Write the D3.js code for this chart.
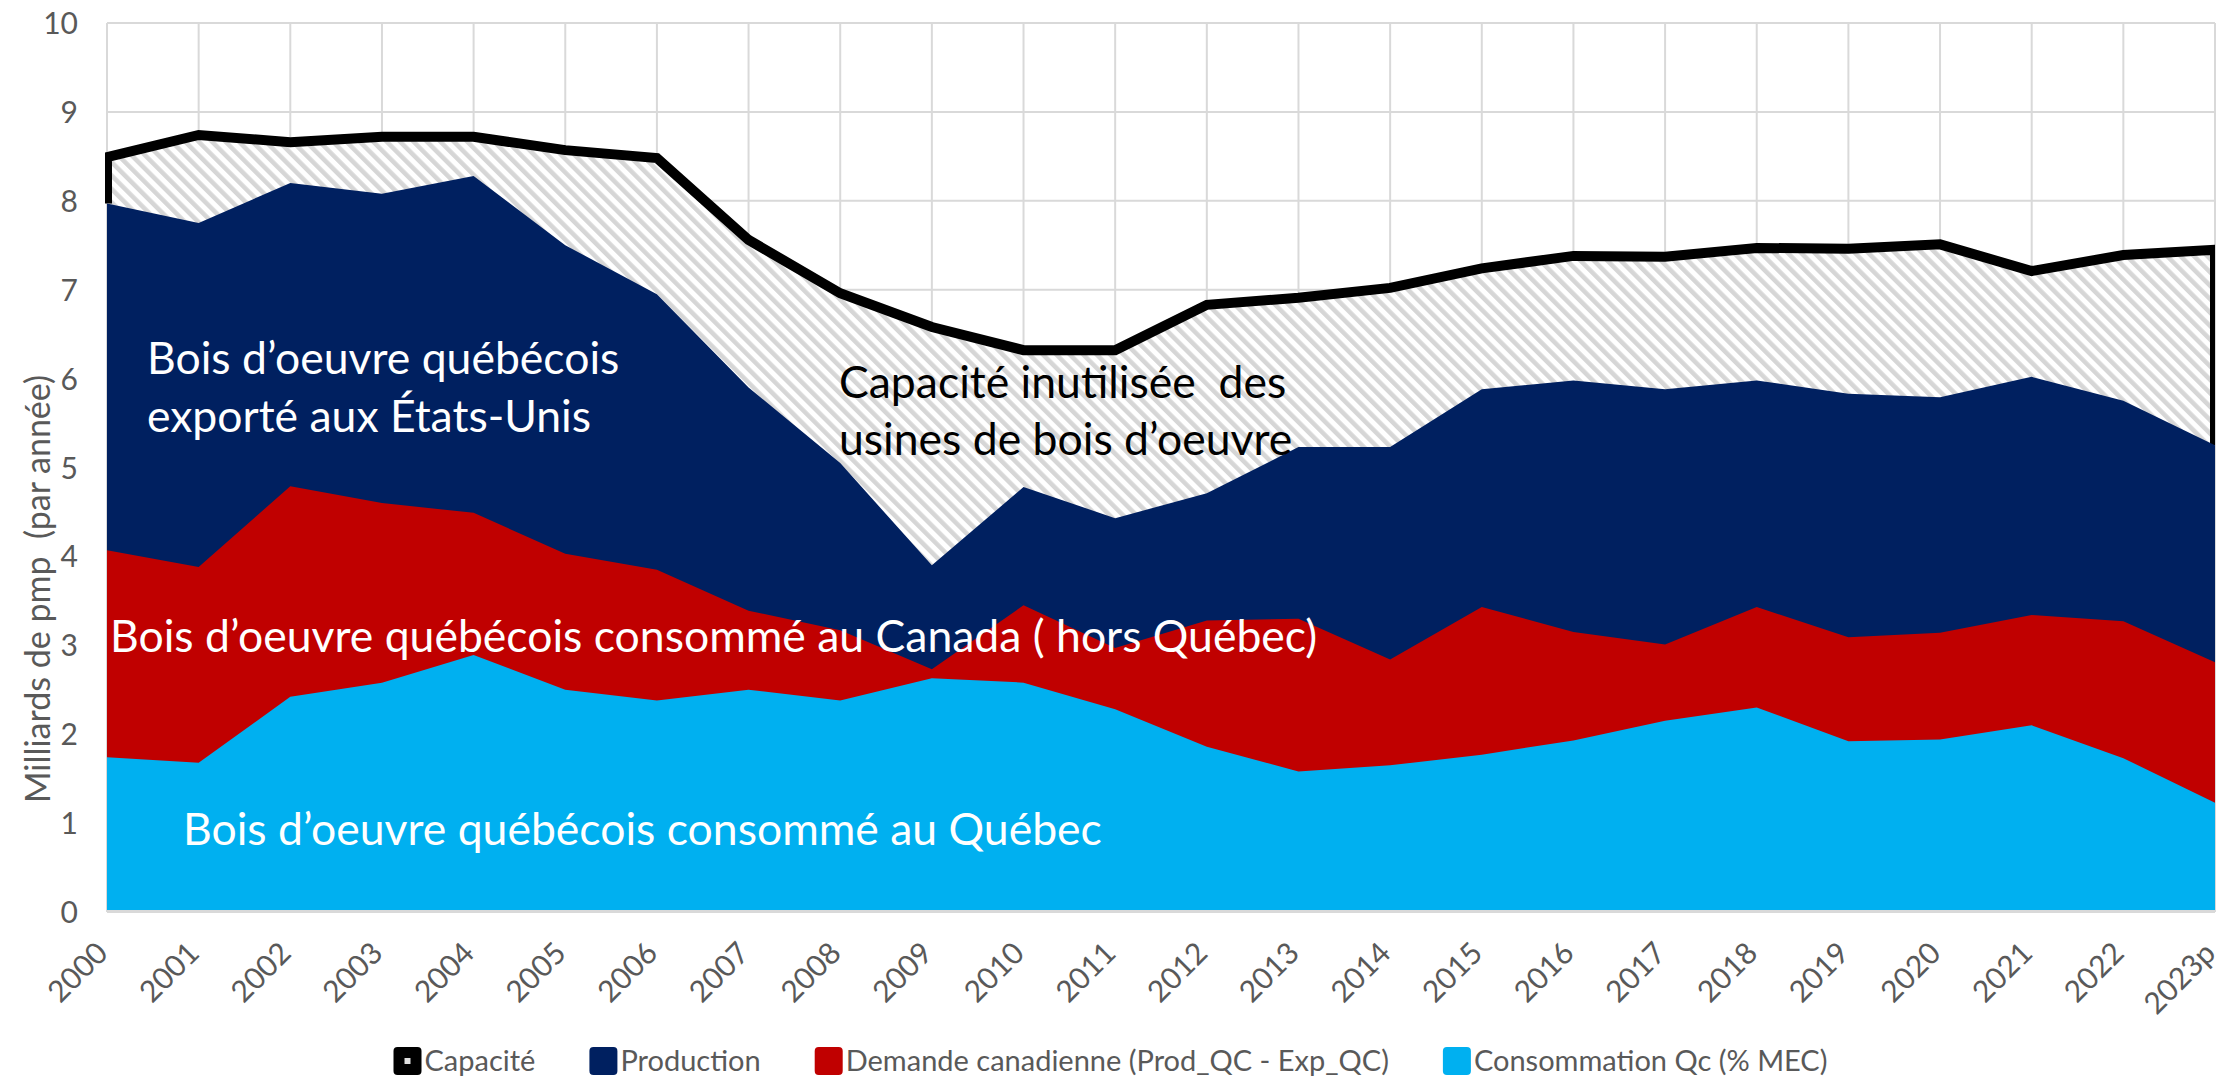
<!DOCTYPE html>
<html>
<head>
<meta charset="utf-8">
<script src="https://cdn.jsdelivr.net/npm/d3@7"></script>
<style>
    body { margin: 0; background: #fff; }
    text { font-family: Lato, "Open Sans", sans-serif; }
</style>
</head>
<body>
<div id="chart"></div>
<script>
// data (milliards de pmp)
var years = ["2000", "2001", "2002", "2003", "2004", "2005", "2006", "2007", "2008", "2009", "2010", "2011",
    "2012", "2013", "2014", "2015", "2016", "2017", "2018", "2019", "2020", "2021", "2022", "2023p"];
var capacite = [8.49, 8.74, 8.66, 8.72, 8.72, 8.57, 8.48, 7.56, 6.96, 6.58, 6.32, 6.32,
    6.83, 6.91, 7.02, 7.24, 7.38, 7.37, 7.47, 7.46, 7.51, 7.21, 7.39, 7.45];
var production = [7.97, 7.75, 8.20, 8.08, 8.28, 7.50, 6.95, 5.90, 5.05, 3.90, 4.78, 4.43,
    4.71, 5.23, 5.23, 5.88, 5.98, 5.88, 5.98, 5.83, 5.79, 6.02, 5.75, 5.25];
var demandeCanadienne = [4.07, 3.88, 4.79, 4.60, 4.49, 4.03, 3.85, 3.39, 3.17, 2.73, 3.45, 2.97,
    3.28, 3.30, 2.84, 3.43, 3.15, 3.01, 3.43, 3.09, 3.14, 3.34, 3.27, 2.81];
var consommationQc = [1.74, 1.68, 2.42, 2.58, 2.89, 2.50, 2.38, 2.50, 2.38, 2.63, 2.58, 2.28,
    1.86, 1.58, 1.65, 1.77, 1.93, 2.15, 2.30, 1.92, 1.94, 2.10, 1.73, 1.23];
var yTicks = [0, 1, 2, 3, 4, 5, 6, 7, 8, 9, 10];
var legendLabels = ["Capacité", "Production", "Demande canadienne (Prod_QC - Exp_QC)", "Consommation Qc (% MEC)"];
var legendColors = ["#000000", "#002060", "#C00000", "#00B0F0"];

var W = 2221, H = 1079;
var margin = { top: 23, right: 6, bottom: 167, left: 107 };

var svg = d3.select("#chart").append("svg")
    .attr("width", W)
    .attr("height", H);

var x = d3.scalePoint()
    .domain(years)
    .range([margin.left, W - margin.right]);

var y = d3.scaleLinear()
    .domain([0, 10])
    .range([H - margin.bottom, margin.top]);

// hatch pattern for unused capacity
var defs = svg.append("defs");
var pat = defs.append("pattern")
    .attr("id", "hatch")
    .attr("patternUnits", "userSpaceOnUse")
    .attr("width", 9.5)
    .attr("height", 9.5)
    .attr("patternTransform", "rotate(-45)");
pat.append("rect").attr("width", 9.5).attr("height", 9.5).attr("fill", "#ffffff");
pat.append("rect").attr("width", 4.5).attr("height", 9.5).attr("fill", "#d6d6d6");

defs.append("clipPath").attr("id", "plotclip")
    .append("rect")
    .attr("x", margin.left - 2)
    .attr("y", 0)
    .attr("width", W - margin.right - margin.left + 2)
    .attr("height", H - margin.bottom);

// gridlines
svg.append("g").attr("class", "grid-y")
    .selectAll("line")
    .data(yTicks)
    .enter().append("line")
    .attr("x1", margin.left)
    .attr("x2", W - margin.right)
    .attr("y1", function (d) { return y(d); })
    .attr("y2", function (d) { return y(d); })
    .attr("stroke", "#d9d9d9")
    .attr("stroke-width", 2);

svg.append("g").attr("class", "grid-x")
    .selectAll("line")
    .data(years)
    .enter().append("line")
    .attr("x1", function (d) { return x(d); })
    .attr("x2", function (d) { return x(d); })
    .attr("y1", y(10))
    .attr("y2", y(0))
    .attr("stroke", "#d9d9d9")
    .attr("stroke-width", 2);

// areas, each from zero, drawn back to front
function areaOf(values) {
    return d3.area()
        .x(function (d, i) { return x(years[i]); })
        .y0(y(0))
        .y1(function (d) { return d; })
        (values.map(function (v) { return y(v); }));
}

svg.append("path")
    .attr("class", "area-capacite")
    .attr("d", areaOf(capacite))
    .attr("fill", "url(#hatch)");

// black outline of the capacity series (top line + both ends)
var n = years.length;
var outline = [[x(years[0]), y(production[0])]];
capacite.forEach(function (v, i) { outline.push([x(years[i]), y(v)]); });
outline.push([x(years[n - 1]), y(production[n - 1])]);

svg.append("path")
    .attr("class", "line-capacite")
    .attr("d", d3.line()(outline))
    .attr("fill", "none")
    .attr("stroke", "#000")
    .attr("stroke-width", 10)
    .attr("stroke-linejoin", "miter")
    .attr("clip-path", "url(#plotclip)");

svg.append("path").attr("d", areaOf(production)).attr("fill", "#002060");
svg.append("path").attr("d", areaOf(demandeCanadienne)).attr("fill", "#C00000");
svg.append("path").attr("d", areaOf(consommationQc)).attr("fill", "#00B0F0");

// bottom axis line
svg.append("line")
    .attr("x1", margin.left)
    .attr("x2", W - margin.right)
    .attr("y1", y(0) - 1)
    .attr("y2", y(0) - 1)
    .attr("stroke", "#d9d9d9")
    .attr("stroke-width", 2);

// y axis labels
var yAxis = d3.axisLeft(y).tickValues(yTicks).tickSize(0).tickPadding(0);
var gy = svg.append("g")
    .attr("class", "y-axis")
    .attr("transform", "translate(78,0)")
    .call(yAxis);
gy.select(".domain").remove();
gy.selectAll("text")
    .attr("fill", "#595959")
    .style("font-size", "30px")
    .attr("dy", "0.35em");

// x axis labels, rotated
var xAxis = d3.axisBottom(x).tickSize(0).tickPadding(0);
var gx = svg.append("g")
    .attr("class", "x-axis")
    .attr("transform", "translate(0," + y(0) + ")")
    .call(xAxis);
gx.select(".domain").remove();
gx.selectAll("text")
    .attr("fill", "#595959")
    .style("font-size", "30px")
    .attr("text-anchor", "end")
    .attr("dy", 0)
    .attr("y", 0)
    .attr("transform", "translate(2,43) rotate(-45)");

// y axis title
svg.append("text")
    .attr("transform", "translate(50," + 589 + ") rotate(-90)")
    .attr("text-anchor", "middle")
    .attr("fill", "#595959")
    .style("font-size", "34px")
    .text("Milliards de pmp\u00a0 (par année)");

// labels inside the areas
var notes = svg.append("g").attr("class", "notes").style("font-size", "44.5px");
notes.append("text").attr("x", 147).attr("y", 374).attr("fill", "#fff").text("Bois d’oeuvre québécois");
notes.append("text").attr("x", 147).attr("y", 432).attr("fill", "#fff").text("exporté aux États-Unis");
notes.append("text").attr("x", 110).attr("y", 652).attr("fill", "#fff").text("Bois d’oeuvre québécois consommé au Canada ( hors Québec)");
notes.append("text").attr("x", 183).attr("y", 845).attr("fill", "#fff").text("Bois d’oeuvre québécois consommé au Québec");
notes.append("text").attr("x", 839).attr("y", 398).attr("fill", "#000").text("Capacité inutilisée\u00a0 des");
notes.append("text").attr("x", 839).attr("y", 455).attr("fill", "#000").text("usines de bois d’oeuvre");

// legend
var legend = svg.append("g").attr("class", "legend");
var items = legend.selectAll("g")
    .data(legendLabels)
    .enter().append("g");
items.append("rect")
    .attr("width", 28).attr("height", 28)
    .attr("rx", 4)
    .attr("y", -14)
    .attr("fill", function (d, i) { return legendColors[i]; });
items.filter(function (d, i) { return i === 0; })
    .append("rect")
    .attr("x", 11).attr("y", -3).attr("width", 6).attr("height", 6)
    .attr("fill", "#e0e0e0");
items.append("text")
    .attr("x", 31)
    .attr("dy", "0.35em")
    .attr("fill", "#595959")
    .style("font-size", "29px")
    .text(function (d) { return d; });

var gap = 54;
var pos = 0;
var offsets = [];
items.each(function () {
    offsets.push(pos);
    pos += this.getBBox().width + gap;
});
var total = pos - gap;
var start = W / 2 - total / 2;
items.attr("transform", function (d, i) { return "translate(" + (start + offsets[i]) + ",1061)"; });
</script>
</body>
</html>
